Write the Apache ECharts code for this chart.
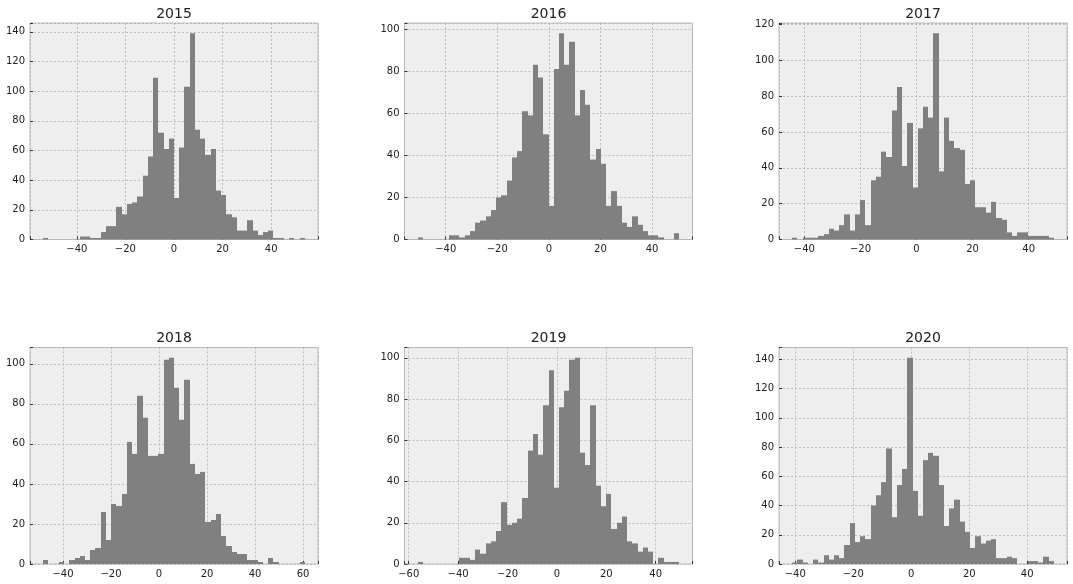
<!DOCTYPE html>
<html><head><meta charset="utf-8">
<script src="https://cdn.jsdelivr.net/npm/echarts@6/dist/echarts.min.js"></script>
<style>html,body{margin:0;padding:0;background:#fff}#c{width:1073px;height:584px}</style>
</head><body><div id="c"></div>
<script>
// ---- data ----
const years = ['2015', '2016', '2017', '2018', '2019', '2020'];
const binCount = 50;
// data range [min, max] of each year's histogram
const range2015 = [-53.9, 53.9];
const range2016 = [-50.9, 50.6];
const range2017 = [-44.4, 49.0];
const range2018 = [-48.3, 60.8];
const range2019 = [-56.4, 49.6];
const range2020 = [-41.1, 49.2];
// counts per bin (50 bins each)
const counts2015 = [1,0,0,0,0,0,0,2,2,1, 1,5,9,9,22,17,24,25,29,43, 56,109,72,61,68,28,62,103,139,74, 68,57,61,33,30,17,15,6,6,13, 6,3,5,6,1,1,0,1,0,1];
const counts2016 = [1,0,0,0,0,0,2,2,1,2, 4,8,9,11,14,20,21,28,39,42, 61,59,83,77,50,16,81,98,83,94, 59,71,64,38,43,36,16,23,16,8, 6,11,7,4,2,2,1,0,0,3];
const counts2017 = [1,0,1,1,1,2,3,6,5,8, 14,5,14,22,8,33,35,49,46,72, 85,41,65,29,62,74,68,115,38,68, 55,51,50,31,33,18,18,15,21,12, 11,4,2,4,4,2,2,2,2,1];
const counts2018 = [2,0,0,1,0,2,3,4,2,7, 8,26,12,30,29,35,61,55,84,73, 54,54,55,102,103,88,72,92,50,45, 46,21,22,25,14,9,6,5,5,2, 2,1,0,3,1,0,0,0,0,1];
const counts2019 = [1,0,0,0,0,0,0,0,3,3, 2,7,5,10,11,16,30,19,20,22, 32,55,63,53,77,94,37,76,84,99, 100,54,48,77,38,28,34,17,20,23, 11,10,6,8,6,0,3,1,1,1];
const counts2020 = [1,3,1,0,3,1,6,3,6,4, 13,28,15,19,17,40,47,56,79,32, 54,65,141,50,33,71,76,74,54,26, 38,44,29,22,11,19,14,16,17,4, 4,5,4,0,0,2,2,1,5,2];

const ranges = [range2015, range2016, range2017, range2018, range2019, range2020];
const countsAll = [counts2015, counts2016, counts2017, counts2018, counts2019, counts2020];

// ---- layout ----
const colLeft = [30, 404.5, 779];
const panelW = 288;
const rowTop = [23, 347.5];
const panelH = 216.5;
const titleTop = [7, 331.5];
const barColor = '#808080';
const FONT = 'DejaVu Sans';

const grids = [], xAxes = [], yAxes = [], series = [], titles = [];
years.forEach((yr, i) => {
  const col = i % 3, row = Math.floor(i / 3);
  const [lo, hi] = ranges[i];
  const counts = countsAll[i];
  const span = hi - lo;
  const bw = span / binCount;
  const maxC = Math.max(...counts);
  grids.push({left: colLeft[col], top: rowTop[row], width: panelW, height: panelH,
    show: true, backgroundColor: '#eeeeee', borderColor: '#bcbcbc', borderWidth: 1, containLabel: false});
  xAxes.push({type: 'value', gridIndex: i, min: lo - 0.05 * span, max: hi + 0.05 * span, splitNumber: 5,
    axisLine: {show: false, onZero: false},
    axisTick: {show: true, inside: true, length: 3, lineStyle: {color: '#333', width: 1}},
    splitLine: {show: true, lineStyle: {color: '#b2b2b2', type: [2, 2], width: 0.8}},
    axisLabel: {show: true, margin: 5, fontFamily: FONT, fontSize: 10, color: '#222',
      formatter: v => (Math.abs(v % 20) < 1e-6 ? String(Math.round(v)).replace('-', '\u2212') : '')}
  });
  yAxes.push({type: 'value', gridIndex: i, min: 0, max: maxC * 1.05, interval: 20,
    axisLine: {show: false, onZero: false},
    axisTick: {show: true, inside: true, length: 3, lineStyle: {color: '#333', width: 1}},
    splitLine: {show: true, lineStyle: {color: '#b2b2b2', type: [2, 2], width: 0.8}},
    axisLabel: {show: true, margin: 5, fontFamily: FONT, fontSize: 10, color: '#222',
      formatter: v => (Math.abs(v % 20) < 1e-6 ? String(Math.round(v)) : '')}
  });
  const data = counts.map((c, k) => [lo + k * bw, lo + (k + 1) * bw, c]);
  series.push({type: 'custom', xAxisIndex: i, yAxisIndex: i, data: data, silent: true,
    encode: {x: [0, 1], y: 2},
    renderItem: (params, api) => {
      if (api.value(2) <= 0) return null;
      const p0 = api.coord([api.value(0), api.value(2)]);
      const p1 = api.coord([api.value(1), 0]);
      const x0 = Math.round(p0[0]), x1 = Math.round(p1[0]);
      return {type: 'rect', shape: {x: x0, y: p0[1], width: x1 - x0, height: p1[1] - p0[1]},
        style: {fill: barColor}};
    }
  });
  titles.push({text: yr, left: colLeft[col] + panelW / 2, top: titleTop[row], textAlign: 'center', padding: 0,
    textStyle: {fontFamily: FONT, fontSize: 14, fontWeight: 'normal', color: '#222'}});
});

const chart = echarts.init(document.getElementById('c'), null, {renderer: 'canvas'});
chart.setOption({animation: false, backgroundColor: '#ffffff', title: titles, grid: grids, xAxis: xAxes, yAxis: yAxes, series: series});
</script></body></html>
